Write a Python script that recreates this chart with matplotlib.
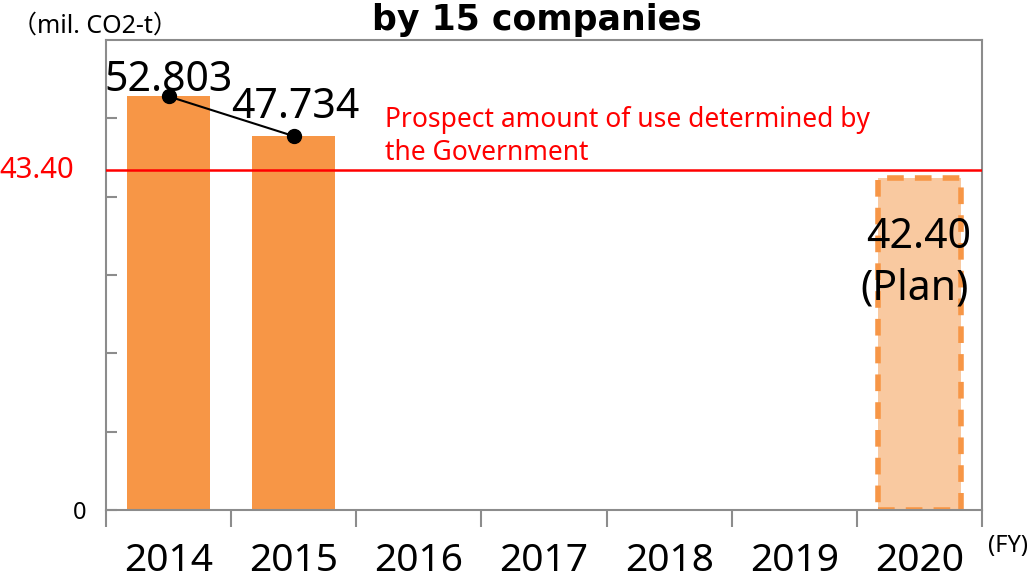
import numpy as np
import matplotlib
matplotlib.use("Agg")
import matplotlib.pyplot as plt

plt.rcParams['font.family'] = ['Noto Sans', 'Noto Sans CJK JP', 'DejaVu Sans']

years = ['2014', '2015', '2016', '2017', '2018', '2019', '2020']
actual_idx = [0, 1]
actual_values = [52.803, 47.734]
actual_labels = ['52.803', '47.734']
plan_idx = 6
plan_value = 42.40
plan_label = '42.40'
gov_value = 43.40
gov_label = '43.40'

orange = '#F79646'
plan_fill = '#F9C9A0'
gray = '#8C8C8C'

fig = plt.figure(figsize=(10.3, 5.8), dpi=100)
ax = fig.add_axes([0.1029, 0.1207, 0.8505, 0.8103])

x = np.arange(len(years))
ax.bar(actual_idx, actual_values, width=0.66, color=orange, zorder=2)
ax.bar(plan_idx, plan_value, width=0.66, color=plan_fill, edgecolor=orange,
       linewidth=4, linestyle=(0, (3, 2)), zorder=2)

# trend line over the actual bars
ax.plot(actual_idx, actual_values, color='black', lw=1.5, marker='o',
        markersize=10, zorder=4)

ax.axhline(gov_value, color='red', lw=1.8, zorder=3)

ax.annotate(actual_labels[0], (actual_idx[0], actual_values[0]), xytext=(0, 4),
            textcoords='offset points', ha='center', va='baseline', fontsize=29.5)
ax.annotate(actual_labels[1], (actual_idx[1], actual_values[1]), xytext=(1, 13),
            textcoords='offset points', ha='center', va='baseline', fontsize=29.5)

ax.text(0.988, 0.558, plan_label, transform=ax.transAxes, ha='right',
        va='baseline', fontsize=29.5, zorder=5)
ax.text(0.985, 0.447, '(Plan)', transform=ax.transAxes, ha='right',
        va='baseline', fontsize=29.5, zorder=5)

ax.text(0.318, 0.745, 'Prospect amount of use determined by\nthe Government',
        transform=ax.transAxes, ha='left', va='baseline', fontsize=19,
        color='red', linespacing=1.25)

ax.set_xlim(-0.5, len(years) - 0.5)
ax.set_ylim(0, 60)

ax.set_xticks(x)
ax.set_xticklabels(years, fontsize=28)
ax.set_xticks(np.arange(-0.5, len(years)), minor=True)
ax.tick_params(axis='x', which='major', length=0, pad=23)
ax.tick_params(axis='x', which='minor', length=12, width=1.5, color=gray, direction='out')

ax.set_yticks([0, 10, 20, 30, 40, 50])
ax.set_yticklabels(['0', '', '', '', '', ''], fontsize=17)
ax.tick_params(axis='y', length=8, width=1.5, color=gray, direction='in', pad=14)
ax.text(-0.122, gov_value, gov_label, transform=ax.get_yaxis_transform(),
        ha='left', va='center', fontsize=21, color='red')

for s in ax.spines.values():
    s.set_color(gray)
    s.set_linewidth(1.5)

fig.text(0.012, 0.944, '（mil. CO2-t）', fontsize=18, ha='left', va='baseline')
fig.text(0.998, 0.048, '(FY)', fontsize=17, ha='right', va='baseline')
fig.text(0.521, 0.948, 'by 15 companies', fontsize=25, fontweight='bold',
         family='DejaVu Sans', ha='center', va='baseline')

fig.savefig('out.png', dpi=100)
